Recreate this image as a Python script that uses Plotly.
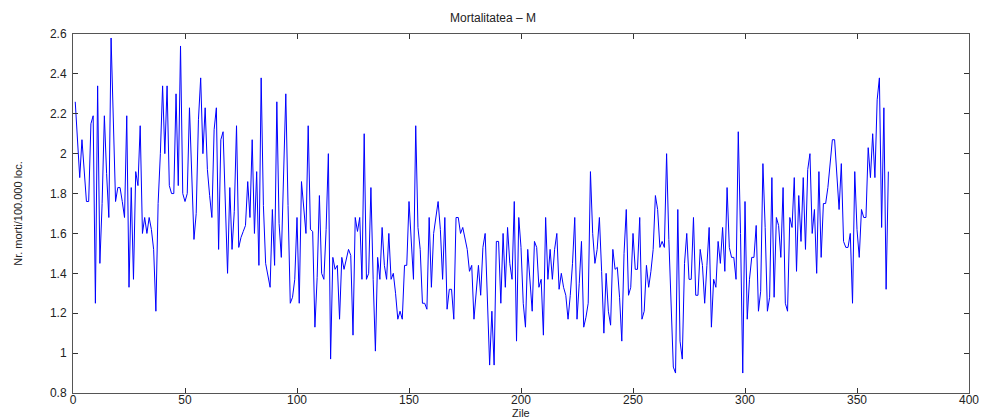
import plotly.graph_objects as go

title_text = "Mortalitatea \u2013 M"
x_label = "Zile"
y_label = "Nr. morti/100.000 loc."

vals_001_050 = [2.26, 2.06, 1.88, 2.07, 1.92, 1.76, 1.76, 2.15, 2.19, 1.25,
                2.34, 1.45, 1.75, 2.19, 1.90, 1.68, 2.58, 2.10, 1.76, 1.83,
                1.83, 1.76, 1.68, 2.19, 1.33, 1.83, 1.37, 1.91, 1.84, 2.14,
                1.60, 1.68, 1.60, 1.68, 1.62, 1.52, 1.21, 1.75, 2.00, 2.34,
                2.00, 2.34, 1.84, 1.80, 1.80, 2.30, 1.84, 2.54, 1.80, 1.76]
vals_051_099 = [1.80, 2.23, 1.88, 1.57, 1.70, 2.17, 2.38, 2.00, 2.23, 1.92,
                1.79, 1.68, 2.12, 2.23, 1.52, 2.07, 2.11, 1.72, 1.40, 1.83,
                1.52, 1.71, 2.14, 1.53, 1.58, 1.61, 1.64, 1.86, 1.68, 2.07,
                1.60, 1.91, 1.44, 2.38, 1.74, 1.45, 1.39, 1.33, 1.72, 1.44,
                2.26, 1.65, 1.48, 1.95, 2.30, 1.74, 1.25, 1.28, 1.37]
vals_100_148 = [1.68, 1.25, 1.86, 1.72, 1.60, 2.14, 1.62, 1.61, 1.13, 1.38,
                1.79, 1.40, 1.37, 1.62, 2.00, 0.97, 1.48, 1.42, 1.44, 1.17,
                1.48, 1.42, 1.47, 1.52, 1.49, 1.09, 1.68, 1.61, 1.68, 1.37,
                2.10, 1.37, 1.40, 1.83, 1.37, 1.01, 1.48, 1.37, 1.63, 1.44,
                1.37, 1.60, 1.37, 1.40, 1.30, 1.17, 1.21, 1.17, 1.44]
vals_149_197 = [1.44, 1.76, 1.55, 1.37, 2.14, 1.63, 1.52, 1.25, 1.25, 1.22,
                1.68, 1.33, 1.60, 1.68, 1.76, 1.62, 1.37, 1.68, 1.22, 1.32,
                1.32, 1.17, 1.68, 1.68, 1.60, 1.63, 1.58, 1.52, 1.41, 1.44,
                1.17, 1.33, 1.44, 1.29, 1.53, 1.60, 1.21, 0.94, 1.21, 0.94,
                1.56, 1.56, 1.25, 1.60, 1.33, 1.63, 1.45, 1.37, 1.76]
vals_198_246 = [1.06, 1.68, 1.53, 1.25, 1.13, 1.52, 1.35, 1.21, 1.56, 1.53,
                1.33, 1.37, 1.09, 1.68, 1.37, 1.52, 1.37, 1.52, 1.60, 1.32,
                1.40, 1.33, 1.29, 1.17, 1.29, 1.45, 1.68, 1.17, 1.35, 1.56,
                1.13, 1.18, 1.25, 1.91, 1.60, 1.45, 1.52, 1.68, 1.41, 1.10,
                1.40, 1.21, 1.14, 1.52, 1.42, 1.43, 1.28, 1.06, 1.50]
vals_247_294 = [1.72, 1.29, 1.33, 1.60, 1.42, 1.42, 1.68, 1.17, 1.21, 1.44,
                1.33, 1.41, 1.52, 1.79, 1.72, 1.53, 1.56, 1.53, 2.00, 1.57,
                1.28, 0.93, 0.90, 1.72, 1.06, 0.97, 1.45, 1.60, 1.37, 1.37,
                1.68, 1.29, 1.29, 1.52, 1.44, 1.25, 1.44, 1.63, 1.13, 1.37,
                1.33, 1.56, 1.45, 1.63, 1.41, 1.83, 1.53, 1.48]
vals_295_345 = [1.48, 1.37, 2.11, 1.60, 0.90, 1.76, 1.17, 1.37, 1.48, 1.48,
                1.64, 1.21, 1.31, 1.95, 1.63, 1.21, 1.28, 1.88, 1.28, 1.68,
                1.64, 1.48, 1.83, 1.25, 1.21, 1.68, 1.63, 1.88, 1.41, 1.79,
                1.56, 1.88, 1.52, 1.92, 2.00, 1.60, 1.72, 1.40, 1.91, 1.48,
                1.75, 1.75, 1.83, 1.95, 2.07, 2.07, 1.88, 1.72, 1.95, 1.56,
                1.53]
vals_346_364 = [1.53, 1.60, 1.25, 1.91, 1.62, 1.48, 1.72, 1.68, 1.68, 2.03,
                1.88, 2.10, 1.88, 2.27, 2.38, 1.63, 2.23, 1.32, 1.91]

mortality = (vals_001_050 + vals_051_099 + vals_100_148 + vals_149_197 +
             vals_198_246 + vals_247_294 + vals_295_345 + vals_346_364)
days = list(range(1, len(mortality) + 1))

x_ticks = [0, 50, 100, 150, 200, 250, 300, 350, 400]
y_ticks = [0.8, 1.0, 1.2, 1.4, 1.6, 1.8, 2.0, 2.2, 2.4, 2.6]
y_tick_labels = ["0.8", "1", "1.2", "1.4", "1.6", "1.8", "2", "2.2", "2.4", "2.6"]

fig = go.Figure()
fig.add_trace(go.Scatter(x=days, y=mortality, mode="lines",
                         line=dict(color="#0000ff", width=1)))

font_main = "Liberation Sans, Arial, sans-serif"
fig.update_layout(
    width=986, height=418,
    margin=dict(l=73, r=17, t=34, b=25),
    paper_bgcolor="white", plot_bgcolor="white",
    showlegend=False,
    font=dict(family=font_main, size=11, color="#222222"),
    title=dict(text=title_text, x=0.5, xanchor="center", y=0.957, yanchor="middle",
               font=dict(family=font_main, size=12, color="#222222")),
)
fig.update_xaxes(range=[0, 400], tickvals=x_ticks, ticks="inside", ticklen=5,
                 tickcolor="#333333", showline=True, linecolor="#555555", linewidth=1,
                 mirror="ticks", showgrid=False, zeroline=False,
                 ticklabelstandoff=-4,
                 tickfont=dict(family=font_main, size=12, color="#222222"),
                 automargin=False)
fig.update_yaxes(range=[0.8, 2.6], tickvals=y_ticks, ticktext=y_tick_labels,
                 ticks="inside", ticklen=5, tickcolor="#333333",
                 showline=True, linecolor="#555555", linewidth=1,
                 mirror="ticks", showgrid=False, zeroline=False,
                 ticklabelstandoff=3,
                 tickfont=dict(family=font_main, size=12, color="#222222"),
                 title=dict(text=y_label, standoff=25,
                            font=dict(family="Liberation Sans Narrow, Arial Narrow, Liberation Sans, sans-serif",
                                      size=11, color="#222222")),
                 automargin=False)
fig.add_annotation(text=x_label, xref="paper", yref="paper", x=0.5, y=0,
                   xanchor="center", yanchor="top", yshift=-13, showarrow=False,
                   borderpad=0,
                   font=dict(family=font_main, size=11, color="#222222"))

fig.write_html("out.html", config={"displayModeBar": False},
               post_script="document.body.style.margin='0';document.body.style.overflow='hidden';")
